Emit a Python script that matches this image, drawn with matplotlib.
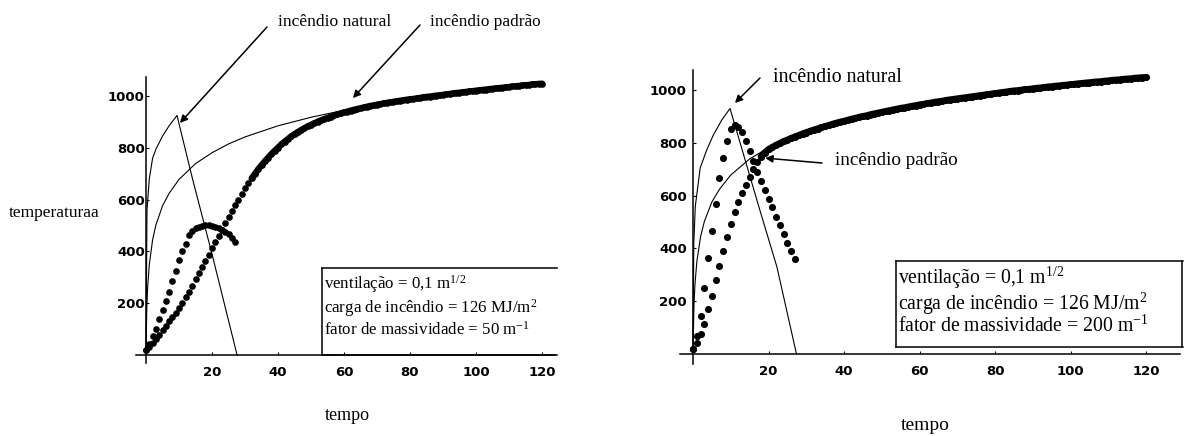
import matplotlib
matplotlib.use("Agg")
import matplotlib.pyplot as plt

# ---------------- data ----------------
# standard fire curve (incêndio padrão), time in min, temperature in °C
tempo_padrao = [0, 0.25, 0.5, 1, 2, 3, 5, 7, 10, 15, 20, 25, 30, 40, 50, 60, 70, 80, 90, 100, 110, 120]
temp_padrao = [20, 185, 261, 349, 445, 502, 576, 624, 678, 739, 781, 815, 842, 885, 918, 945, 968, 988,
               1006, 1022, 1036, 1049]

# natural fire curves (incêndio natural)
tempo_natural_esq = [0, 0.3, 1, 2, 3, 5, 7, 9.4, 14, 20, 27.6]
temp_natural_esq = [20, 560, 680, 760, 795, 845, 885, 925, 685, 390, 0]
tempo_natural_dir = [0, 0.2, 0.6, 1.9, 3.6, 5.4, 7.6, 9.8, 17.7, 22.2, 27.4]
temp_natural_dir = [20, 420, 560, 705, 772, 830, 886, 930, 545, 331, 0]

# steel temperatures, one value per minute
tempo_aco = list(range(121))
aco_padrao_50 = [
    20, 30, 45, 60, 78, 95, 112, 130, 146, 163,
    182, 202, 223, 245, 268, 292, 316, 340, 364, 388,
    412, 435, 459, 484, 508, 532, 555, 578, 600, 622,
    643, 663, 682, 700, 717, 733, 748, 762, 776, 789,
    801, 813, 824, 834, 844, 853, 861, 869, 876, 883,
    889, 895, 901, 906, 911, 916, 920, 925, 929, 933,
    937, 940, 944, 947, 950, 953, 956, 959, 962, 964,
    967, 969, 972, 974, 976, 978, 980, 982, 984, 986,
    988, 989, 991, 993, 995, 997, 998, 1000, 1002, 1003,
    1005, 1007, 1008, 1010, 1012, 1013, 1015, 1016, 1018, 1019,
    1021, 1022, 1024, 1025, 1027, 1028, 1030, 1031, 1032, 1034,
    1035, 1037, 1038, 1039, 1041, 1042, 1043, 1045, 1046, 1047,
    1048]
aco_padrao_200 = [
    20, 40, 75, 112, 169, 220, 280, 333, 391, 444,
    492, 539, 577, 610, 640, 672, 700, 728, 748, 763,
    775, 783, 791, 798, 805, 811, 817, 823, 828, 834,
    839, 844, 849, 853, 858, 862, 866, 871, 875, 879,
    882, 886, 890, 893, 897, 900, 903, 907, 910, 913,
    916, 919, 922, 925, 928, 931, 933, 936, 939, 941,
    944, 946, 949, 951, 954, 956, 958, 961, 963, 965,
    967, 969, 971, 973, 975, 977, 979, 981, 983, 985,
    987, 989, 991, 993, 995, 997, 998, 1000, 1002, 1003,
    1005, 1007, 1008, 1010, 1012, 1013, 1015, 1016, 1018, 1019,
    1021, 1022, 1024, 1025, 1027, 1028, 1030, 1031, 1032, 1034,
    1035, 1037, 1038, 1039, 1041, 1042, 1043, 1045, 1046, 1047,
    1048]
tempo_aco_nat = list(range(28))
aco_natural_50 = [20, 42, 72, 102, 140, 172, 210, 245, 285, 325, 365, 400, 430, 462, 478, 489, 496, 500,
                  502, 501, 499, 496, 491, 484, 476, 466, 452, 437]
aco_natural_200 = [20, 68, 144, 251, 362, 467, 570, 665, 744, 807, 852, 866, 860, 840, 805, 770, 730, 690,
                   655, 620, 588, 555, 520, 488, 455, 422, 392, 360]

xticks = [20, 40, 60, 80, 100, 120]
yticks = [200, 400, 600, 800, 1000]
caixa_esq = ["ventilação = 0,1 m$^{1/2}$", "carga de incêndio = 126 MJ/m$^{2}$",
             "fator de massividade = 50 m$^{-1}$"]
caixa_dir = ["ventilação = 0,1 m$^{1/2}$", "carga de incêndio = 126 MJ/m$^{2}$",
             "fator de massividade = 200 m$^{-1}$"]

# ---------------- style ----------------
plt.rcParams['mathtext.fontset'] = 'custom'
plt.rcParams['mathtext.rm'] = 'Liberation Serif'
plt.rcParams['mathtext.it'] = 'Liberation Serif:italic'
plt.rcParams['mathtext.bf'] = 'Liberation Serif:bold'
SERIF = 'Liberation Serif'

W, H = 1184, 436
fig = plt.figure(figsize=(W / 100, H / 100), dpi=100)


def fx(x):
    return x / W


def fy(y):
    return 1 - y / H


axL = fig.add_axes([fx(136.1), fy(362.8), (555.2 - 136.1) / W, (362.8 - 76.6) / H])
axR = fig.add_axes([fx(680.2), fy(363.5), (1180 - 680.2) / W, (363.5 - 70.2) / H])


def style(ax, xlim, ylim, ypad):
    ax.set_xlim(*xlim)
    ax.set_ylim(*ylim)
    for s in ['top', 'right']:
        ax.spines[s].set_visible(False)
    ax.spines['left'].set_position(('data', 0))
    ax.spines['bottom'].set_position(('data', 0))
    for s in ['left', 'bottom']:
        ax.spines[s].set_linewidth(1.1)
    ax.set_xticks(xticks)
    ax.set_yticks(yticks)
    ax.set_xticklabels([str(v) for v in xticks])
    ax.set_yticklabels([str(v) for v in yticks])
    ax.tick_params(axis='x', direction='in', length=2, width=0.8, pad=8)
    ax.tick_params(axis='y', direction='in', length=2, width=0.8, pad=ypad)
    for lab in ax.get_xticklabels() + ax.get_yticklabels():
        lab.set_fontfamily('DejaVu Sans')
        lab.set_fontweight('bold')
        lab.set_fontsize(9.5)
    ax.patch.set_alpha(0)


ms = 4.8
# left chart
axL.plot(tempo_padrao, temp_padrao, color='black', lw=0.8)
axL.plot(tempo_natural_esq, temp_natural_esq, color='black', lw=0.8)
axL.plot(tempo_aco, aco_padrao_50, 'o', color='black', ms=ms, mew=0)
axL.plot(tempo_aco[32:], aco_padrao_50[32:], '-', color='black', lw=4.5, solid_capstyle='round')
axL.plot(tempo_aco_nat, aco_natural_50, 'o', color='black', ms=ms, mew=0)
style(axL, (-3, 124), (-30, 1075), 0.8)

# right chart
axR.plot(tempo_padrao, temp_padrao, color='black', lw=0.8)
axR.plot(tempo_natural_dir, temp_natural_dir, color='black', lw=0.8)
axR.plot(tempo_aco, aco_padrao_200, 'o', color='black', ms=ms + 0.3, mew=0)
axR.plot(tempo_aco[18:], aco_padrao_200[18:], '-', color='black', lw=4.8, solid_capstyle='round')
axR.plot(tempo_aco_nat, aco_natural_200, 'o', color='black', ms=ms + 0.3, mew=0)
style(axR, (-3.4, 129), (-36, 1075), 4.5)

# axis titles
fig.text(fx(54), fy(213), "temperaturaa", family=SERIF, fontsize=12.5, ha='center', va='center')
fig.text(fx(347), fy(415), "tempo", family=SERIF, fontsize=13, ha='center', va='center')
fig.text(fx(925), fy(425), "tempo", family=SERIF, fontsize=14, ha='center', va='center')

# annotations
arrow = dict(arrowstyle='-|>', color='black', lw=1.1, mutation_scale=11, shrinkA=0, shrinkB=0)
fig.text(fx(278), fy(22), "incêndio natural", family=SERIF, fontsize=12.6, ha='left', va='center')
fig.text(fx(430), fy(22), "incêndio padrão", family=SERIF, fontsize=12.4, ha='left', va='center')
axL.annotate('', xy=(10.3, 896), xycoords='data', xytext=(267, H - 27), textcoords='figure pixels',
             arrowprops=arrow, annotation_clip=False)
axL.annotate('', xy=(62.7, 992), xycoords='data', xytext=(420, H - 25), textcoords='figure pixels',
             arrowprops=arrow, annotation_clip=False)

fig.text(fx(773), fy(77), "incêndio natural", family=SERIF, fontsize=14.3, ha='left', va='center')
fig.text(fx(835), fy(160), "incêndio padrão", family=SERIF, fontsize=13.8, ha='left', va='center')
axR.annotate('', xy=(11.1, 951), xycoords='data', xytext=(760, H - 78), textcoords='figure pixels',
             arrowprops=arrow, annotation_clip=False)
axR.annotate('', xy=(19.1, 742), xycoords='data', xytext=(822, H - 163), textcoords='figure pixels',
             arrowprops=arrow, annotation_clip=False)


# parameter boxes
def caixa(x0, x1, y0, y1, linhas, xs, ytop, fs, ls):
    fig.add_artist(plt.Line2D([fx(x0), fx(x0)], [fy(y0), fy(y1)], color='black', lw=1.1))
    fig.add_artist(plt.Line2D([fx(x0), fx(x1)], [fy(y0), fy(y0)], color='black', lw=1.1))
    fig.add_artist(plt.Line2D([fx(x0), fx(x1)], [fy(y1), fy(y1)], color='black', lw=1.1))
    fig.text(fx(xs), fy(ytop), "\n".join(linhas), family=SERIF, fontsize=fs, ha='left', va='top',
             linespacing=ls)


caixa(322, 557, 268, 355, caixa_esq, 324, 273, 12.2, 1.12)
caixa(896, 1183, 261, 347, caixa_dir, 898, 265, 14.2, 0.96)
fig.add_artist(plt.Line2D([fx(1182), fx(1182)], [fy(261), fy(347)], color='black', lw=1.1))

fig.savefig("out.png", dpi=100)
